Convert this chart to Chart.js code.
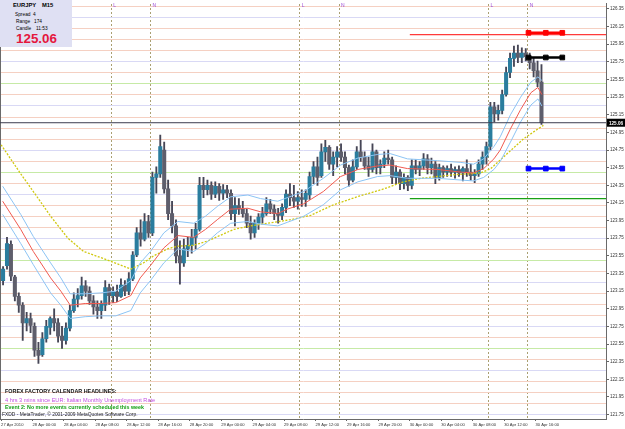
<!DOCTYPE html>
<html>
<head>
<meta charset="utf-8">
<script src="https://cdn.jsdelivr.net/npm/chart.js@4.4.1/dist/chart.umd.min.js"></script>
<style>
body { margin: 0; background: #fff; }
#wrap { position: relative; width: 625px; height: 429px; font-family: "Liberation Sans", Arial, sans-serif; }
canvas { position: absolute; left: 0; top: 0; }
#info { position: absolute; left: 0; top: 0; width: 72px; height: 47px; background: #dfe0f3; }
.t { position: absolute; white-space: nowrap; line-height: 1; }
</style>
</head>
<body>
<div id="wrap">
  <canvas id="priceChart" width="625" height="429"></canvas>
  <div id="info">
    <div class="t" style="left:13px;top:3px;font-size:5.8px;font-weight:bold">EURJPY</div>
    <div class="t" style="left:42px;top:3px;font-size:5.8px;font-weight:bold">M15</div>
    <div class="t" style="left:15px;top:12.6px;font-size:4.8px">Spread</div>
    <div class="t" style="left:33px;top:12.6px;font-size:4.8px">4</div>
    <div class="t" style="left:16px;top:19.6px;font-size:4.8px">Range</div>
    <div class="t" style="left:34px;top:19.6px;font-size:4.8px">174</div>
    <div class="t" style="left:16px;top:26.6px;font-size:4.8px">Candle</div>
    <div class="t" style="left:36px;top:26.6px;font-size:4.8px">11:53</div>
    <div class="t" style="left:16px;top:32.4px;font-size:13.4px;font-weight:bold;color:#e5173d">125.06</div>
  </div>
  <div class="t" style="left:5px;top:389.4px;font-size:5.4px;font-weight:bold;color:#111">FOREX FACTORY CALENDAR HEADLINES:</div>
  <div class="t" style="left:5px;top:398px;font-size:5.6px;color:#c24fe0">4 hrs 3 mins since EUR: Italian Monthly Unemployment Rate</div>
  <div class="t" style="left:5px;top:404.7px;font-size:5.3px;font-weight:bold;color:#14a014">Event 2: No more events currently scheduled this week</div>
  <div class="t" style="left:2px;top:413.3px;font-size:4.9px;color:#222">FXDD - MetaTrader, © 2001-2009 MetaQuotes Software Corp.</div>
</div>
<script>
// Axis range, hours from 28 Apr 00:00
const xMin = -4.14;
const xMax = 72.96;
const yMin = 121.70;
const yMax = 126.41;

// Time axis ticks (every 4 hours)
const tickHours = [-4, 0, 4, 8, 12, 16, 20, 24, 28, 32, 36, 40, 44, 48, 52, 56, 60, 64];
const timeLabels = ["27 Apr 2010", "28 Apr 00:00", "28 Apr 04:00", "28 Apr 08:00", "28 Apr 12:00", "28 Apr 16:00",
  "28 Apr 20:00", "29 Apr 00:00", "29 Apr 04:00", "29 Apr 08:00", "29 Apr 12:00", "29 Apr 16:00",
  "29 Apr 20:00", "30 Apr 00:00", "30 Apr 04:00", "30 Apr 08:00", "30 Apr 12:00", "30 Apr 16:00"];

// Price axis labels
const priceTicks = [126.35, 126.15, 125.95, 125.75, 125.55, 125.35, 125.15, 124.95, 124.75, 124.55, 124.35, 124.15,
  123.95, 123.75, 123.55, 123.35, 123.15, 122.95, 122.75, 122.55, 122.35, 122.15, 121.95, 121.75];

// Candles, 30 min apart starting at 27 Apr 20:15
const candleStart = -3.75;
const candleStep = 0.5;
const opens = [123.27,123.44,123.68,123.31,123.09,122.99,122.79,122.84,122.75,122.48,
  122.43,122.61,122.74,122.84,122.79,122.64,122.59,122.73,122.93,123.06,
  123.10,123.21,123.15,123.04,122.97,122.93,122.99,123.19,123.10,123.14,
  123.09,123.22,123.15,123.29,123.56,123.81,123.74,123.94,123.81,124.44,
  124.48,124.75,124.31,124.03,123.89,123.55,123.47,123.63,123.67,123.76,
  123.85,124.35,124.30,124.35,124.25,124.34,124.26,124.30,124.26,124.03,
  124.12,124.08,124.03,123.92,123.81,123.92,123.99,124.03,124.14,124.08,
  124.03,124.01,124.10,124.25,124.21,124.17,124.21,124.19,124.24,124.45,
  124.56,124.46,124.73,124.78,124.59,124.67,124.73,124.67,124.55,124.41,
  124.56,124.73,124.67,124.57,124.53,124.73,124.55,124.59,124.66,124.64,
  124.44,124.50,124.37,124.44,124.35,124.57,124.53,124.57,124.65,124.55,
  124.59,124.44,124.55,124.50,124.54,124.50,124.53,124.49,124.54,124.50,
  124.46,124.48,124.59,124.67,124.79,125.24,125.16,125.20,125.38,125.63,
  125.79,125.85,125.80,125.85,125.81,125.74,125.65,125.52];
const highs = [123.43,123.76,123.72,123.33,123.13,123.02,122.91,122.90,122.79,122.57,
  122.68,122.82,122.86,122.95,122.84,122.75,122.79,122.99,123.13,123.18,
  123.31,123.27,123.20,123.10,123.04,123.04,123.27,123.23,123.20,123.22,
  123.29,123.27,123.36,123.60,123.87,123.96,124.03,124.01,124.50,124.56,
  124.92,124.84,124.41,124.17,123.96,123.72,123.74,123.76,123.85,123.92,
  124.44,124.44,124.41,124.39,124.39,124.37,124.36,124.35,124.30,124.21,
  124.20,124.17,124.08,124.00,123.96,124.03,124.10,124.21,124.19,124.13,
  124.09,124.14,124.30,124.37,124.35,124.28,124.30,124.30,124.50,124.62,
  124.67,124.82,124.86,124.80,124.73,124.79,124.82,124.73,124.58,124.64,
  124.79,124.86,124.73,124.67,124.82,124.75,124.64,124.73,124.75,124.67,
  124.57,124.53,124.48,124.46,124.64,124.64,124.62,124.71,124.70,124.66,
  124.62,124.59,124.57,124.57,124.59,124.56,124.57,124.56,124.64,124.59,
  124.53,124.64,124.73,124.84,125.29,125.29,125.26,125.43,125.69,125.85,
  125.93,125.94,125.91,125.90,125.85,125.80,125.76,125.72];
const lows = [123.22,123.40,123.27,123.04,122.91,122.59,122.70,122.68,122.41,122.33,
  122.41,122.57,122.66,122.70,122.57,122.50,122.55,122.70,122.91,122.97,
  123.06,123.09,123.00,122.89,122.84,122.84,122.93,123.00,123.02,123.03,
  123.08,123.10,123.11,123.27,123.54,123.66,123.72,123.76,123.78,124.26,
  124.44,124.26,123.96,123.81,123.47,123.23,123.43,123.54,123.58,123.63,
  123.83,124.21,124.24,124.19,124.21,124.18,124.19,124.21,123.96,123.89,
  124.02,123.99,123.87,123.74,123.76,123.85,123.92,124.01,124.03,123.96,
  123.92,123.96,124.04,124.12,124.10,124.08,124.11,124.11,124.19,124.37,
  124.35,124.44,124.62,124.53,124.46,124.56,124.62,124.48,124.34,124.39,
  124.53,124.62,124.53,124.45,124.50,124.48,124.48,124.55,124.59,124.37,
  124.37,124.30,124.31,124.29,124.31,124.48,124.46,124.53,124.48,124.48,
  124.37,124.41,124.44,124.45,124.45,124.43,124.45,124.40,124.45,124.41,
  124.38,124.45,124.53,124.59,124.75,125.07,125.09,125.16,125.36,125.57,
  125.70,125.74,125.74,125.76,125.67,125.58,125.47,125.04];
const closes = [123.40,123.69,123.32,123.09,122.99,122.79,122.84,122.76,122.48,122.42,
  122.61,122.75,122.84,122.79,122.64,122.59,122.73,122.93,123.06,123.10,
  123.21,123.15,123.04,122.97,122.93,123.01,123.19,123.10,123.14,123.09,
  123.22,123.15,123.29,123.56,123.81,123.74,123.94,123.81,124.44,124.48,
  124.79,124.31,124.03,123.89,123.55,123.47,123.63,123.67,123.76,123.85,
  124.35,124.30,124.35,124.25,124.34,124.26,124.30,124.26,124.03,124.12,
  124.08,124.03,123.92,123.81,123.92,123.99,124.03,124.14,124.08,124.03,
  124.01,124.10,124.25,124.21,124.17,124.21,124.19,124.26,124.45,124.56,
  124.44,124.73,124.78,124.59,124.67,124.73,124.67,124.55,124.41,124.56,
  124.73,124.67,124.57,124.53,124.73,124.55,124.59,124.66,124.64,124.44,
  124.50,124.37,124.44,124.35,124.57,124.53,124.57,124.65,124.55,124.59,
  124.44,124.55,124.50,124.54,124.50,124.53,124.49,124.54,124.50,124.46,
  124.48,124.59,124.67,124.79,125.24,125.16,125.20,125.38,125.63,125.79,
  125.85,125.80,125.85,125.81,125.74,125.65,125.52,125.06];

// Moving average channel (red middle, light blue upper/lower)
const bandHours = [-3.8,-1.5,0.1,2.3,3.6,4.8,6.7,8.7,10.6,12.5,13.7,15.0,16.7,18.5,20.5,22.0,23.5,25.2,27.4,29.0,
  31.2,32.4,34.5,37.0,39.2,41.4,43.9,45.5,47.7,51.5,54.5,56.1,57.4,58.7,59.5,60.8,62.1,63.4,64.3,64.8];
const maMid = [124.17,123.85,123.60,123.30,123.15,122.99,123.01,123.01,123.02,123.10,123.30,123.44,123.64,123.78,
  123.76,123.85,123.96,124.08,124.09,124.05,124.03,124.08,124.14,124.28,124.45,124.53,124.57,124.58,124.54,
  124.53,124.50,124.49,124.54,124.65,124.75,124.99,125.21,125.40,125.46,125.38];
const maUpper = [124.34,124.02,123.77,123.47,123.30,123.12,123.12,123.13,123.15,123.27,123.47,123.60,123.81,123.94,
  123.92,124.00,124.11,124.22,124.24,124.20,124.17,124.21,124.28,124.43,124.58,124.66,124.70,124.71,124.65,
  124.63,124.61,124.59,124.65,124.79,124.90,125.15,125.35,125.52,125.58,125.54];
const maLower = [124.02,123.69,123.45,123.13,122.99,122.84,122.86,122.87,122.87,122.93,123.13,123.27,123.47,123.63,
  123.60,123.69,123.81,123.92,123.94,123.91,123.89,123.93,124.00,124.13,124.30,124.39,124.45,124.46,124.43,
  124.43,124.41,124.40,124.44,124.53,124.62,124.84,125.07,125.26,125.33,125.25];

// Slow moving average (yellow dotted)
const slowHours = [-4.0,-1.5,0.1,2.3,4.5,6.5,8.7,10.8,12.5,14.1,15.4,17.2,18.4,20.5,22.3,25.6,27.7,29.9,
  32.8,35.4,38.3,41.3,44.7,47.2,49.4,53.6,57.0,58.3,60.4,62.5,64.3,65.0];
const slowMa = [124.81,124.48,124.28,124.00,123.75,123.60,123.53,123.46,123.40,123.47,123.55,123.63,123.66,
  123.67,123.72,123.85,123.89,123.92,123.96,124.01,124.13,124.22,124.31,124.39,124.43,124.47,124.49,124.54,
  124.71,124.88,124.99,125.03];

// Levels
const bidPrice = 125.06;
const levelStart = 48;            // 30 Apr 00:00
const dayHighLine = 126.06;
const dayLowLine = 124.20;
const markerHours = [63.1, 65.3, 67.4];
const markerRed = 126.08;
const markerBlack = 125.80;
const markerBlue = 124.54;

// Session lines (London / New York)
const sessionHours = [10, 15, 34, 39, 58, 63];
const sessionTags = ["L", "N", "L", "N", "L", "N"];

// Murrey math levels
const murreyLow = 121.75;
const murreyHigh = 126.375;
const murreyStep = 0.125;

const candleTime = i => candleStart + candleStep * i;
const bull = i => closes[i] >= opens[i];

const wicks = highs.map((h, i) => ({ x: candleTime(i), y: [lows[i], h] }));
const bodies = opens.map((o, i) => ({ x: candleTime(i), y: [o, closes[i]] }));
const pts = (xs, ys) => xs.map((x, i) => ({ x: x, y: ys[i] }));
const flat = (x0, x1, y) => [{ x: x0, y: y }, { x: x1, y: y }];

function lineSet(data, color, extra) {
  return Object.assign({
    type: 'line', data: data, borderColor: color, borderWidth: 1,
    pointRadius: 0, fill: false, tension: 0
  }, extra || {});
}
function markerSet(level, color) {
  return lineSet(pts(markerHours, markerHours.map(() => level)), color, {
    borderWidth: 2.5, pointRadius: 3.3, pointStyle: 'rect',
    pointBackgroundColor: color, pointBorderColor: color, pointBorderWidth: 1, order: 0
  });
}

const overlay = {
  id: 'overlay',
  afterDraw(chart) {
    const ctx = chart.ctx;
    const xs = chart.scales.x2;
    const ys = chart.scales.y;
    const area = chart.chartArea;
    ctx.save();
    ctx.font = '5px "Liberation Sans"';
    ctx.fillStyle = '#9d4fd8';
    ctx.textBaseline = 'top';
    sessionHours.forEach((h, i) => ctx.fillText(sessionTags[i], xs.getPixelForValue(h) + 2, 3));
    const py = ys.getPixelForValue(bidPrice);
    ctx.fillStyle = '#000';
    ctx.fillRect(area.right + 1, py - 4, 18, 8);
    ctx.fillStyle = '#fff';
    ctx.font = 'bold 4.6px "Liberation Sans"';
    ctx.textBaseline = 'middle';
    ctx.fillText(bidPrice.toFixed(2), area.right + 3, py + 0.5);
    ctx.restore();
  }
};

const axisFont = { family: 'Liberation Sans', size: 4.5 };

new Chart(document.getElementById('priceChart'), {
  type: 'bar',
  data: {
    datasets: [
      {
        data: wicks, barThickness: 1.2, grouped: false, order: 4,
        backgroundColor: '#464656', borderWidth: 0
      },
      {
        data: bodies, barThickness: 3.4, grouped: false, order: 3,
        backgroundColor: c => bull(c.dataIndex) ? '#2a7d9e' : '#5e5e6c', borderWidth: 0
      },
      lineSet(pts(bandHours, maUpper), '#8cc4f4', { order: 2 }),
      lineSet(pts(bandHours, maLower), '#8cc4f4', { order: 2 }),
      lineSet(pts(bandHours, maMid), '#f05a50', { order: 2 }),
      lineSet(pts(slowHours, slowMa), '#d0c810', { order: 2, borderDash: [2, 1.5], borderWidth: 1.3 }),
      lineSet(flat(xMin, xMax, bidPrice), '#3c3c4e', { order: 1 }),
      lineSet(flat(levelStart, xMax, dayHighLine), '#ff3a3a', { order: 6, borderWidth: 1.3 }),
      lineSet(flat(levelStart, xMax, dayLowLine), '#18a018', { order: 6, borderWidth: 1.2 }),
      markerSet(markerRed, '#ff0000'),
      markerSet(markerBlack, '#000000'),
      markerSet(markerBlue, '#0000ff')
    ]
  },
  options: {
    responsive: false,
    animation: false,
    events: [],
    layout: { autoPadding: false, padding: { top: 1, left: 0, right: 0, bottom: 0 } },
    plugins: { legend: { display: false }, tooltip: { enabled: false } },
    scales: {
      x: {
        type: 'linear', position: 'bottom', min: xMin, max: xMax, offset: false,
        afterBuildTicks: s => { s.ticks = tickHours.map(v => ({ value: v })); },
        afterFit: s => { s.height = 10; },
        ticks: {
          autoSkip: false, maxRotation: 0, minRotation: 0, align: 'start', padding: 1,
          color: '#333', font: { family: 'Liberation Sans', size: 4.1 },
          callback: (v, i) => timeLabels[i]
        },
        grid: { drawOnChartArea: false, drawTicks: true, tickLength: 2, color: '#666', offset: false },
        border: { display: true, color: '#6a6a6a' }
      },
      x2: {
        type: 'linear', axis: 'x', position: 'top', min: xMin, max: xMax, offset: false,
        afterBuildTicks: s => { s.ticks = sessionHours.map(v => ({ value: v })); },
        afterFit: s => { s.height = 0; },
        ticks: { display: false },
        grid: { drawTicks: false, color: '#aaa072', offset: false },
        border: { display: false, dash: [2, 2] }
      },
      y: {
        type: 'linear', position: 'right', min: yMin, max: yMax,
        afterBuildTicks: s => { s.ticks = priceTicks.map(v => ({ value: v })); },
        afterFit: s => { s.width = 19; },
        ticks: {
          autoSkip: false, padding: 1, color: '#333', font: axisFont,
          callback: v => v.toFixed(2)
        },
        grid: { drawOnChartArea: false, drawTicks: true, tickLength: 3, color: '#666' },
        border: { display: true, color: '#6a6a6a' }
      },
      y2: {
        type: 'linear', axis: 'y', position: 'left', min: yMin, max: yMax,
        afterBuildTicks: s => {
          const t = [];
          for (let v = murreyLow; v <= murreyHigh + 1e-9; v += murreyStep) t.push({ value: v });
          s.ticks = t;
        },
        afterFit: s => { s.width = 0; },
        ticks: { display: false },
        grid: {
          drawTicks: false,
          color: c => {
            const f = ((c.tick ? c.tick.value : 0) % 1 + 1) % 1;
            if (Math.abs(f - 0.5) < 1e-6) return '#c6eaa6';
            if (Math.abs(f - 0.25) < 1e-6 || Math.abs(f - 0.75) < 1e-6) return '#d9d9f5';
            return '#f5d0c2';
          }
        },
        border: { display: true, color: '#6a6a6a' }
      }
    }
  },
  plugins: [overlay]
});
</script>
</body>
</html>
